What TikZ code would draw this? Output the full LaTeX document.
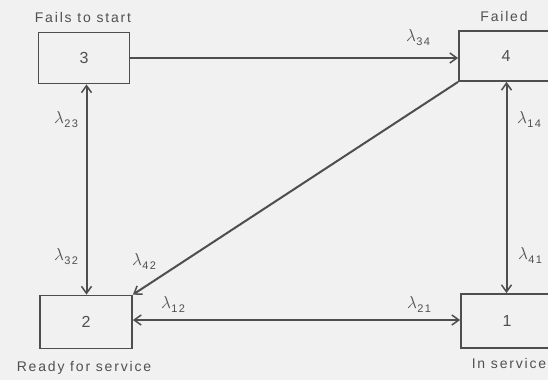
\documentclass[tikz,border=0pt]{standalone}
\usepackage{fontspec}
\setmainfont{Liberation Sans}[LetterSpace=13]
\usetikzlibrary{arrows.meta}
\definecolor{ink}{HTML}{4E4E4E}
\definecolor{txt}{HTML}{505050}
\definecolor{paper}{HTML}{F1F1F1}
\newcommand\lamlab[1]{{\fontsize{16}{16}\selectfont$\lambda$}\kern0.3pt\raisebox{-4pt}{\fontsize{11}{11}\selectfont #1}}
\tikzset{
  state/.style={draw=ink, line width=1.8pt, rectangle, inner sep=0pt, text=txt,
    font=\fontsize{16}{16}\selectfont},
  caption text/.style={text=txt, font=\fontsize{14}{15}\selectfont, inner sep=0pt},
  lab/.style={text=txt, inner sep=0pt},
  conn/.style={draw=ink, line width=2pt, -{Straight Barb[length=7pt,width=10pt,line width=1.5pt]}},
  both/.style={draw=ink, line width=2pt, {Straight Barb[length=7pt,width=10pt,line width=1.5pt]}-{Straight Barb[length=7pt,width=10pt,line width=1.5pt]}}
}
\begin{document}
\begin{tikzpicture}[x=1pt,y=-1pt]
\fill[paper] (0,0) rectangle (548,380);
\clip (0,0) rectangle (548,380);
\useasboundingbox (0,0) rectangle (548,380);

\node[state, minimum width=91pt, minimum height=51pt] (b3) at (84,58) {3};
\node[state, minimum width=94pt, minimum height=50pt] (b4) at (506,56) {4};
\node[state, minimum width=92pt, minimum height=53pt] (b2) at (86,322) {2};
\node[state, minimum width=92pt, minimum height=54pt] (b1) at (507,321) {1};

\node[caption text] (t3) at (83,17) {Fails to start};
\node[caption text] (t4) at (504,16) {Failed};
\node[caption text] (t2) at (84,368) {Ready for service};
\node[caption text] (t1) at (509,363) {In service};

\coordinate (v32) at (86.5,0);
\coordinate (v41) at (506.5,0);
\draw[both] (b3.south -| v32) -- (b2.north -| v32);
\draw[both] (b4.south -| v41) -- (b1.north -| v41);
\draw[conn] (b3.east |- 0,58) -- (b4.west |- 0,58);
\draw[both] (b2.east |- 0,320) -- (b1.west |- 0,320);
\draw[conn] (b4.south west) -- (b2.north east);

\node[lab] (l23) at (66,120) {\lamlab{23}};
\node[lab] (l32) at (66,257) {\lamlab{32}};
\node[lab] (l42) at (144,261) {\lamlab{42}};
\node[lab] (l12) at (173,304) {\lamlab{12}};
\node[lab] (l34) at (418,38) {\lamlab{34}};
\node[lab] (l14) at (529,119) {\lamlab{14}};
\node[lab] (l41) at (530,255) {\lamlab{41}};
\node[lab] (l21) at (419,304) {\lamlab{21}};
\end{tikzpicture}
\end{document}
